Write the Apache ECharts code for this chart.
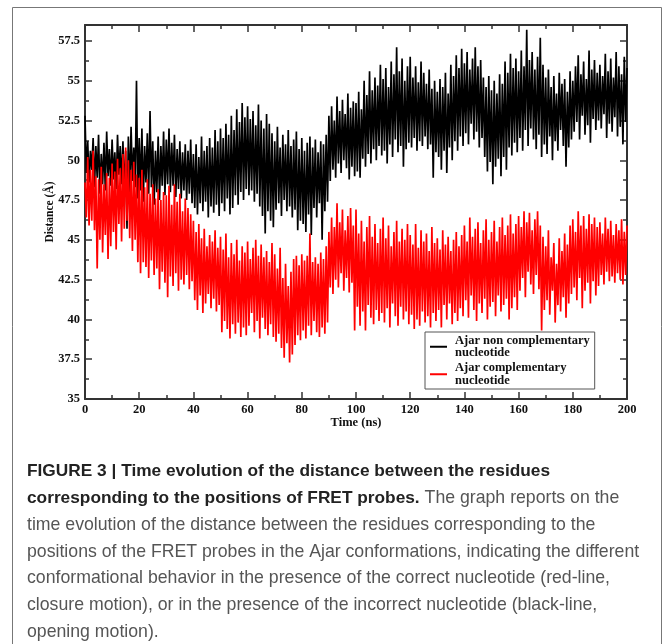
<!DOCTYPE html>
<html>
<head>
<meta charset="utf-8">
<script src="https://cdn.jsdelivr.net/npm/echarts@6/dist/echarts.min.js"></script>
<style>
  html, body { margin: 0; padding: 0; background: #fff; }
  #chart { width: 667px; height: 644px; }
</style>
</head>
<body>
<div id="chart"></div>
<script>
// values, one per ns: upper and lower swing of each trace
const blackHi = [
  52.8, 51.2, 50.6, 51.4, 50.9, 51.6, 50.4, 51.1, 51.8, 50.7,
  51.3, 50.5, 51.6, 50.9, 51.2, 50.6, 51.5, 52.1, 50.8, 55.0,
  51.4, 52.0, 50.9, 51.7, 53.1, 51.2, 50.6, 51.5, 50.9, 51.8,
  51.3, 52.0, 51.1, 51.6, 50.7, 51.2, 50.5, 51.0, 50.6, 51.3,
  50.4, 51.0, 50.2, 51.5, 50.6, 50.9, 51.4, 50.8, 51.9, 51.2,
  52.0, 51.4, 52.3, 51.6, 52.8, 51.9, 53.2, 52.4, 53.6, 52.7,
  53.4, 52.6, 53.1, 52.2, 53.5, 52.5, 52.0, 52.9, 52.3, 51.7,
  51.2, 52.1, 50.8, 51.6, 51.0, 51.9, 50.9, 51.3, 51.8, 50.7,
  51.4, 50.6, 51.1, 51.5, 50.8, 51.3, 50.5, 51.2, 51.0, 51.6,
  52.8, 53.4, 52.5, 54.0, 53.1, 53.8, 52.9, 54.2, 53.3, 53.7,
  53.6, 54.3, 53.2, 55.0, 54.1, 55.6, 54.4, 55.2, 54.7, 56.0,
  55.1, 55.8, 54.6, 56.2, 55.4, 57.1, 55.6, 56.4, 55.0, 55.9,
  56.5, 55.2, 55.9, 54.9, 56.2, 55.5, 54.8, 55.7, 54.5, 55.0,
  54.3, 55.1, 54.6, 55.5, 54.2, 56.0, 55.3, 56.6, 55.8, 57.0,
  56.1, 56.8, 55.7, 56.4, 57.1, 55.9, 56.3, 55.2, 54.6, 55.3,
  54.4, 55.0, 54.2, 55.4, 54.8, 56.2, 55.5, 56.7, 55.8, 56.4,
  55.6, 56.9, 55.9, 58.2, 56.3, 56.8, 55.7, 56.5, 57.7, 56.0,
  55.2, 55.7, 54.6, 55.3, 54.2, 55.5, 54.8, 55.1, 54.3, 55.6,
  55.0, 55.9, 56.6, 55.4, 56.2, 55.1, 56.9, 55.7, 56.3, 55.5,
  56.0, 55.3, 56.7, 55.6, 56.4, 55.2, 56.8, 55.9, 55.4, 56.5,
  55.8
];
const blackLo = [
  49.2, 48.6, 49.4, 48.3, 48.9, 47.9, 48.5, 48.1, 49.0, 48.4,
  48.8, 48.2, 49.1, 48.5, 47.8, 45.7, 48.0, 48.7, 48.3, 47.6,
  48.1, 47.4, 48.6, 47.9, 48.3, 47.2, 48.0, 47.5, 48.4, 47.8,
  48.5, 48.0, 48.4, 47.7, 48.2, 47.6, 48.1, 47.5, 47.9, 47.3,
  47.0, 46.6, 47.3, 46.8, 47.4, 46.4, 47.1, 46.7, 47.2, 46.5,
  47.3, 46.8, 47.6, 46.6, 47.0, 47.8, 47.2, 48.0, 47.5, 48.2,
  47.8, 48.1, 47.4, 47.9, 47.1, 46.5, 45.4, 46.8, 46.2, 45.8,
  46.9, 47.3, 46.5, 47.5, 46.8, 47.1, 46.4, 46.9, 45.6, 46.2,
  46.0, 45.5, 46.6, 45.3, 47.0, 46.4, 47.3, 45.0, 46.8, 47.4,
  48.7, 49.4, 48.9, 49.8, 49.2, 50.0, 49.5, 48.8, 49.6, 49.0,
  49.3, 48.9, 50.1, 49.6, 50.4, 49.8, 50.7, 50.0, 50.9, 50.3,
  50.6, 49.8, 51.0, 50.2, 51.3, 50.5, 50.9, 49.6, 50.7, 51.1,
  50.8, 51.4, 50.6, 51.2, 50.9, 51.5, 50.7, 51.0, 48.9, 50.5,
  50.2, 49.4, 50.6, 49.2, 50.8, 50.0, 51.2, 50.6, 51.5, 50.9,
  51.7, 51.0, 52.3, 51.3, 51.8, 50.8, 51.4, 50.2, 49.3, 49.9,
  48.5, 49.6, 50.1, 49.0, 50.2, 49.4, 50.8, 50.3, 51.1, 50.5,
  51.4, 50.6, 51.9, 50.9, 52.0, 51.3, 50.7, 51.6, 50.2, 51.0,
  50.4, 51.5, 50.0, 51.2, 50.6, 51.9, 50.9, 49.6, 50.8, 51.3,
  51.8, 52.4, 51.3, 52.8, 51.6, 52.2, 51.1, 52.6, 51.9, 52.5,
  52.0, 52.9, 51.4, 52.3, 51.8, 52.7, 51.5, 52.1, 51.0, 52.4,
  51.7
];
const redHi = [
  48.6, 50.2, 49.4, 50.6, 49.0, 48.8, 49.6, 48.5, 49.2, 48.9,
  49.8, 49.3, 50.1, 49.5, 50.4, 50.8, 50.0, 49.4, 49.9, 49.1,
  48.9, 49.4, 48.3, 48.8, 47.9, 48.5, 47.6, 48.2, 47.5, 48.0,
  47.8, 48.4, 47.2, 48.5, 47.4, 47.9, 46.8, 47.6, 47.0, 46.6,
  46.2, 45.5, 46.0, 45.1, 45.7, 44.6, 45.3, 44.9, 45.6, 44.5,
  45.2, 44.4, 45.4, 43.9, 44.8, 44.1, 45.0, 43.7, 44.6, 44.2,
  44.9, 43.8, 44.5, 45.0, 44.0, 44.7, 43.9, 44.3, 43.6, 44.8,
  44.1, 43.2, 44.5, 42.6, 43.5, 42.1, 43.0, 43.8, 44.0, 43.4,
  44.1, 43.7, 44.0, 45.4, 43.6, 43.9, 43.5, 44.2, 43.8, 44.6,
  45.5, 46.4, 45.8, 47.3, 46.1, 46.9, 45.6, 46.5, 47.0, 45.9,
  46.9, 45.4, 46.2, 44.9, 45.8, 46.5, 45.2, 46.0, 44.8, 45.7,
  46.4, 45.1, 45.9, 44.6, 45.5, 46.2, 44.9, 45.7, 45.0, 46.0,
  45.3, 44.7, 46.0, 44.5, 45.6, 44.9, 45.4, 44.3, 45.8, 44.8,
  45.1, 44.4, 45.6, 44.7, 45.2, 44.3, 45.0, 45.5, 44.6, 45.3,
  45.9, 44.9, 46.4, 45.2, 45.7, 46.1, 44.8, 45.6, 46.3, 45.0,
  45.5, 46.2, 44.9, 45.8, 46.4, 45.3, 45.9, 46.6, 45.4, 46.0,
  46.5, 45.8, 46.8, 46.1, 46.7, 45.6, 46.3, 46.8, 45.9, 45.2,
  44.6, 45.6, 43.9, 44.8, 43.5, 45.1, 44.3, 45.4, 44.7, 45.9,
  46.3, 45.5, 46.8, 45.9, 46.5, 45.7, 46.6, 46.0, 46.4, 45.8,
  46.1, 45.4, 46.4, 45.7, 46.2, 45.3, 46.0, 45.6, 46.3, 45.5,
  45.9
];
const redLo = [
  46.4, 45.9, 46.2, 45.6, 43.2, 45.0, 44.2, 45.3, 43.8, 44.6,
  45.5, 44.4, 46.0, 44.9, 45.7, 46.2, 45.1, 44.3, 45.0, 43.6,
  42.9, 43.6, 43.3, 42.6, 43.7, 42.8, 43.2, 41.9, 43.0, 42.3,
  41.4, 42.7, 42.1, 42.9, 41.8, 42.5, 42.2, 42.8, 41.9, 42.4,
  41.2, 40.6, 41.5, 40.4, 41.0, 41.6, 40.7, 41.3, 40.5, 40.9,
  39.2, 39.9, 39.4, 38.8, 39.7, 39.1, 39.8, 38.9, 39.5, 39.0,
  39.6, 40.4, 39.2, 39.9, 38.8, 40.1, 39.4, 39.0, 39.7, 38.9,
  38.6, 39.1, 38.2, 37.6, 38.5, 37.3, 37.8, 38.4, 39.0, 38.7,
  39.3, 38.8, 39.6, 39.0, 39.9, 39.2, 38.9, 39.5, 39.1, 39.8,
  42.0, 41.6, 42.5, 42.0, 42.9, 41.8, 42.6, 41.7, 42.3, 39.3,
  40.8, 39.6, 40.5, 39.3, 40.9, 40.1, 39.7, 40.6, 39.9, 40.4,
  39.8, 40.7, 39.5, 41.0, 40.2, 39.6, 40.8, 40.0, 40.5, 39.7,
  40.3, 39.4, 40.0, 39.6, 40.5, 39.8, 40.2, 39.5, 40.4, 39.9,
  40.6, 39.5, 40.9, 40.0, 41.0, 39.7, 40.4, 39.9, 40.7, 40.2,
  41.2, 40.1, 41.5, 40.6, 39.9, 41.0, 40.4, 41.3, 40.0, 40.8,
  41.1, 40.2, 41.5, 40.5, 40.9, 41.3, 40.0, 40.7, 41.4, 40.6,
  41.8, 42.6, 41.4, 43.0, 42.2, 41.6, 42.8, 41.9, 39.3, 40.6,
  41.2, 40.3, 41.8, 39.8, 40.9, 40.5, 41.4, 40.1, 41.0, 41.6,
  42.0, 41.2, 42.6, 40.7, 41.8, 42.3, 41.0, 42.4, 41.5, 42.1,
  42.8, 42.2, 43.0, 42.4, 42.7, 42.3, 42.9, 42.5, 42.2, 42.8,
  42.6
];

const seriesNames = ['Ajar non complementary\nnucleotide', 'Ajar complementary\nnucleotide'];

const captionLines = [
  '{b|FIGURE 3 | Time evolution of the distance between the residues}',
  '{b|corresponding to the positions of FRET probes.} The graph reports on the',
  'time evolution of the distance between the residues corresponding to the',
  'positions of the FRET probes in the Ajar conformations, indicating the different',
  'conformational behavior in the presence of the correct nucleotide (red-line,',
  'closure motion), or in the presence of the incorrect nucleotide (black-line,',
  'opening motion).'
];

// trace swings between the high and low reading inside each ns
function trace(hi, lo) {
  const out = [];
  for (let i = 0; i < hi.length; i++) {
    out.push([i, hi[i]]);
    if (i < lo.length - 1) out.push([i + 0.5, lo[i]]);
  }
  return out;
}

const serif = '"Liberation Serif", "DejaVu Serif", serif';
const sans = '"Liberation Sans", Arial, sans-serif';
const frameColor = '#333';

function xAxisCfg(pos, labels) {
  return {
    type: 'value', position: pos, min: 0, max: 200, interval: 20,
    name: labels ? 'Time (ns)' : '', nameLocation: 'middle', nameGap: 17,
    nameMoveOverlap: false,
    nameTextStyle: { fontFamily: serif, fontWeight: 'bold', fontSize: 12.5, color: '#111' },
    axisLine: { show: true, onZero: false, lineStyle: { color: frameColor, width: 2 } },
    axisTick: { show: true, inside: true, length: 7, lineStyle: { color: frameColor, width: 1.5 } },
    minorTick: { show: true, splitNumber: 2, length: 4, lineStyle: { color: frameColor, width: 1.5 } },
    axisLabel: { show: labels, margin: 4, fontFamily: serif, fontWeight: 'bold', fontSize: 12.5, color: '#111' },
    splitLine: { show: false }
  };
}

function yAxisCfg(pos, labels) {
  return {
    type: 'value', position: pos, min: 35, max: 58.5, interval: 2.5,
    name: labels ? 'Distance (Å)' : '', nameLocation: 'middle', nameGap: 29,
    nameMoveOverlap: false,
    nameTextStyle: { fontFamily: serif, fontWeight: 'bold', fontSize: 11.5, color: '#111' },
    axisLine: { show: true, onZero: false, lineStyle: { color: frameColor, width: 2 } },
    axisTick: { show: true, inside: true, length: 7, lineStyle: { color: frameColor, width: 1.5 } },
    minorTick: { show: true, splitNumber: 2, length: 4, lineStyle: { color: frameColor, width: 1.5 } },
    axisLabel: { show: labels, margin: 5, showMaxLabel: false, fontFamily: serif, fontWeight: 'bold', fontSize: 12.5, color: '#111' },
    splitLine: { show: false }
  };
}

const chart = echarts.init(document.getElementById('chart'));

chart.setOption({
  animation: false,
  backgroundColor: '#fff',
  grid: { left: 85, right: 40, top: 25, bottom: 245 },
  xAxis: [xAxisCfg('bottom', true), xAxisCfg('top', false)],
  yAxis: [yAxisCfg('left', true), yAxisCfg('right', false)],
  legend: {
    orient: 'vertical',
    left: 425, top: 332,
    padding: [2, 5, 2, 5],
    itemGap: 2,
    itemWidth: 17, itemHeight: 2,
    icon: 'rect',
    backgroundColor: '#fff',
    borderColor: '#555', borderWidth: 1,
    textStyle: { fontFamily: serif, fontWeight: 'bold', fontSize: 12.5, lineHeight: 12.5, color: '#111', padding: [0, 0, 0, 3] },
    data: seriesNames
  },
  series: [
    {
      name: seriesNames[0], type: 'line', symbol: 'none', color: '#000',
      lineStyle: { width: 1.7, color: '#000' },
      data: trace(blackHi, blackLo)
    },
    {
      name: seriesNames[1], type: 'line', symbol: 'none', color: '#ff0000',
      lineStyle: { width: 1.7, color: '#ff0000' },
      data: trace(redHi, redLo)
    }
  ],
  graphic: [
    {
      type: 'rect', silent: true,
      shape: { x: 12.5, y: 7.5, width: 649, height: 700 },
      style: { fill: 'none', stroke: '#777', lineWidth: 1 }
    },
    {
      type: 'text', left: 27, top: 458, silent: true,
      style: {
        text: captionLines.join('\n'),
        fontFamily: sans,
        fontSize: 17.7, fontWeight: 'normal', lineHeight: 26.8,
        fill: '#555',
        rich: {
          b: { fontFamily: sans, fontSize: 17.3, fontWeight: 'bold', lineHeight: 26.8, fill: '#222' }
        }
      }
    }
  ]
});
</script>
</body>
</html>
